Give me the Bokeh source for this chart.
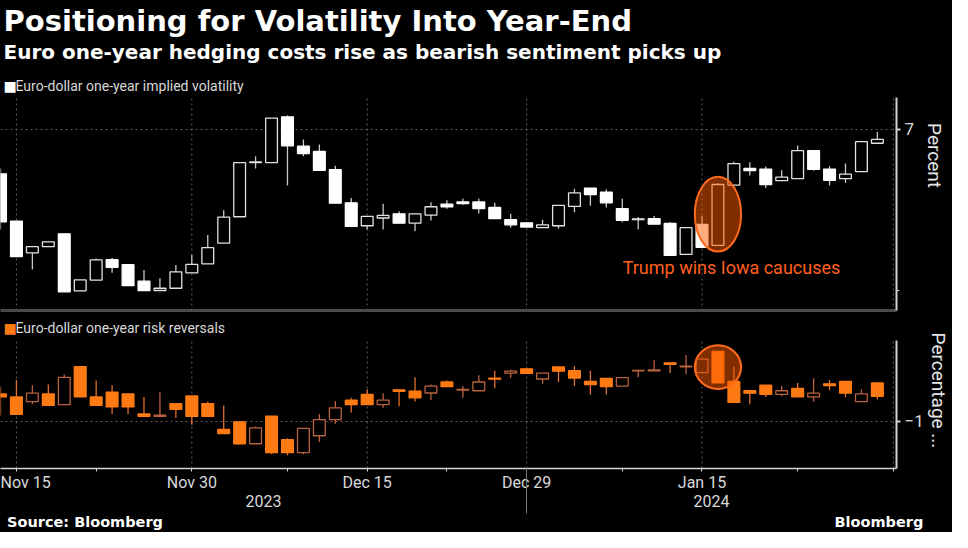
import numpy as np
import pandas as pd
from bokeh.plotting import figure
from bokeh.models import ColumnDataSource, Range1d, FixedTicker, LinearAxis, Label
from bokeh.layouts import column
from bokeh.embed import file_html
from bokeh.resources import INLINE

# ---------------- data ----------------
axis_days = pd.bdate_range("2023-11-14", "2024-01-31")   # weekday axis
n_candles = 56                                             # Nov 14 .. Jan 30

vol_open = [6.862, 6.715, 6.617, 6.636, 6.676, 6.499, 6.532, 6.596, 6.580, 6.529,
            6.500, 6.507, 6.555, 6.583, 6.647, 6.729, 6.897, 6.897, 7.039, 6.948,
            6.932, 6.875, 6.772, 6.701, 6.725, 6.738, 6.709, 6.734, 6.768, 6.775,
            6.775, 6.758, 6.720, 6.710, 6.695, 6.701, 6.761, 6.818, 6.805, 6.754,
            6.720, 6.723, 6.708, 6.612, 6.705, 6.640, 6.827, 6.879, 6.877, 6.841,
            6.847, 6.934, 6.877, 6.847, 6.869, 6.957]
vol_high = [6.879, 6.715, 6.636, 6.651, 6.676, 6.533, 6.599, 6.602, 6.580, 6.564,
            6.538, 6.579, 6.610, 6.672, 6.749, 6.897, 6.917, 7.035, 7.043, 6.969,
            6.953, 6.887, 6.787, 6.730, 6.769, 6.746, 6.738, 6.774, 6.780, 6.785,
            6.785, 6.772, 6.738, 6.710, 6.720, 6.764, 6.816, 6.818, 6.814, 6.785,
            6.728, 6.731, 6.713, 6.695, 6.731, 6.834, 6.900, 6.898, 6.885, 6.873,
            6.950, 6.934, 6.886, 6.894, 6.962, 6.992]
vol_low = [6.689, 6.605, 6.565, 6.636, 6.496, 6.499, 6.532, 6.555, 6.515, 6.500,
           6.500, 6.507, 6.555, 6.583, 6.647, 6.729, 6.879, 6.897, 6.826, 6.917,
           6.873, 6.771, 6.699, 6.689, 6.689, 6.709, 6.684, 6.717, 6.754, 6.766,
           6.739, 6.723, 6.695, 6.697, 6.695, 6.692, 6.743, 6.763, 6.758, 6.712,
           6.689, 6.706, 6.609, 6.612, 6.634, 6.640, 6.827, 6.857, 6.818, 6.841,
           6.847, 6.872, 6.826, 6.834, 6.869, 6.957]
vol_close = [6.713, 6.605, 6.636, 6.651, 6.496, 6.533, 6.595, 6.572, 6.515, 6.500,
             6.507, 6.558, 6.581, 6.633, 6.728, 6.897, 6.899, 7.035, 6.949, 6.925,
             6.873, 6.771, 6.699, 6.730, 6.733, 6.709, 6.738, 6.760, 6.760, 6.770,
             6.754, 6.723, 6.704, 6.697, 6.704, 6.764, 6.803, 6.798, 6.772, 6.718,
             6.722, 6.706, 6.609, 6.695, 6.634, 6.829, 6.894, 6.872, 6.829, 6.852,
             6.934, 6.876, 6.842, 6.861, 6.962, 6.969]

rr_open = [-0.854, -0.870, -0.895, -0.854, -0.912, -0.707, -0.870, -0.845, -0.854, -0.962,
           -0.975, -0.907, -0.865, -0.907, -1.045, -1.004, -1.122, -0.974, -1.100, -1.170,
           -1.079, -0.992, -0.887, -0.857, -0.912, -0.832, -0.839, -0.849, -0.790, -0.833,
           -0.837, -0.769, -0.742, -0.719, -0.774, -0.709, -0.729, -0.787, -0.770, -0.812,
           -0.730, -0.730, -0.687, -0.708, -0.740, -0.625, -0.787, -0.837, -0.807, -0.857,
           -0.825, -0.870, -0.800, -0.787, -0.895, -0.795]
rr_high = [-0.815, -0.779, -0.807, -0.804, -0.750, -0.707, -0.782, -0.807, -0.854, -0.870,
           -0.845, -0.907, -0.865, -0.895, -0.917, -1.004, -1.029, -0.974, -1.092, -1.039,
           -0.962, -0.892, -0.874, -0.829, -0.850, -0.832, -0.764, -0.804, -0.782, -0.812,
           -0.754, -0.729, -0.724, -0.719, -0.742, -0.709, -0.704, -0.729, -0.770, -0.767,
           -0.724, -0.670, -0.687, -0.645, -0.667, -0.625, -0.707, -0.837, -0.807, -0.812,
           -0.795, -0.770, -0.779, -0.787, -0.829, -0.795]
rr_low = [-0.970, -0.964, -0.909, -0.915, -0.912, -0.870, -0.915, -0.962, -0.962, -0.975,
          -0.975, -0.984, -1.020, -0.975, -1.067, -1.122, -1.122, -1.179, -1.184, -1.179,
          -1.112, -1.015, -0.954, -0.912, -0.929, -0.920, -0.895, -0.887, -0.815, -0.874,
          -0.837, -0.824, -0.767, -0.744, -0.800, -0.790, -0.812, -0.859, -0.857, -0.812,
          -0.765, -0.730, -0.742, -0.749, -0.740, -0.795, -0.900, -0.909, -0.870, -0.867,
          -0.870, -0.895, -0.834, -0.870, -0.895, -0.884]
rr_close = [-0.870, -0.964, -0.850, -0.915, -0.765, -0.870, -0.915, -0.924, -0.924, -0.975,
            -0.968, -0.937, -0.975, -0.975, -1.067, -1.122, -1.037, -1.170, -1.170, -1.039,
            -0.992, -0.929, -0.912, -0.912, -0.887, -0.840, -0.875, -0.812, -0.815, -0.830,
            -0.790, -0.775, -0.732, -0.744, -0.742, -0.732, -0.769, -0.804, -0.815, -0.767,
            -0.727, -0.725, -0.695, -0.705, -0.667, -0.795, -0.900, -0.850, -0.857, -0.837,
            -0.870, -0.850, -0.809, -0.850, -0.854, -0.867]

major_tick_dates = ["2023-11-15", "2023-11-30", "2023-12-15", "2023-12-29", "2024-01-15"]
minor_tick_dates = ["2023-11-22", "2023-12-08", "2023-12-22", "2024-01-08", "2024-01-23", "2024-01-31"]
year_labels = ["2023", "2024"]
year_break_date = "2023-12-29"
event_date = "2024-01-16"
event_text = "Trump wins Iowa caucuses"

title_text = "Positioning for Volatility Into Year-End"
subtitle_text = "Euro one-year hedging costs rise as bearish sentiment picks up"
vol_name = "Euro-dollar one-year implied volatility"
rr_name = "Euro-dollar one-year risk reversals"
source_text = "Source: Bloomberg"
brand_text = "Bloomberg"
vol_axis_name = "Percent"
rr_axis_name = "Percentage ..."
vol_lo, vol_hi = 6.438, 7.099          # visible value window, top panel
rr_lo, rr_hi = -1.255, -0.565          # visible value window, bottom panel
vol_ticks, vol_minor_ticks = [7], [6.5]
rr_ticks = [-1]

# ---------------- layout / style ----------------
BG = "#000000"
GRID = "#5e5e5e"
AXC = "#d2d2d2"
TXT = "#d9d9d9"
ORANGE = "#ff7a12"
ORANGE_HOLLOW = "#b9623f"
ANNOT = "#ff5f1f"

W = 952
P1_H, P1_DATA_TOP, P1_BORDER_BOTTOM = 312, 97, 2
P2_H, P2_DATA_TOP, P2_BORDER_BOTTOM = 220, 28, 62

idx = {d.strftime("%Y-%m-%d"): i for i, d in enumerate(axis_days)}
x = np.arange(n_candles)
major_idx = [idx[d] for d in major_tick_dates]
minor_idx = [idx[d] for d in minor_tick_dates]
grid_idx = major_idx + [idx["2024-01-31"]]
ev = idx[event_date]
brk = idx[year_break_date]

xr = Range1d(0, 56.2)


def extended_range(lo, hi, frame_h, data_top):
    # the frame also holds the header area above the data window
    scale = (frame_h - data_top) / (hi - lo)
    return Range1d(lo, hi + data_top / scale)


def base_fig(h, border_bottom, data_top, lo, hi):
    frame_h = h - border_bottom
    p = figure(width=W, height=h, x_range=xr,
               y_range=extended_range(lo, hi, frame_h, data_top),
               y_axis_location="right", output_backend="svg", toolbar_location=None,
               min_border_left=0, min_border_right=50, min_border_top=0,
               min_border_bottom=border_bottom, background_fill_color=BG,
               border_fill_color=BG, outline_line_color=None)
    p.title.visible = False
    p.xgrid.visible = False
    p.ygrid.grid_line_color = GRID
    p.ygrid.grid_line_dash = "2 3"
    # vertical grid lines limited to the data window
    p.segment(x0=grid_idx, y0=lo, x1=grid_idx, y1=hi, line_color=GRID,
              line_dash="2 3", line_width=1)
    ya = p.yaxis[0]
    ya.bounds = (lo, hi)
    ya.axis_line_color = AXC
    ya.axis_line_width = 2
    ya.major_tick_line_color = AXC
    ya.major_tick_line_width = 2
    ya.minor_tick_line_color = AXC
    ya.major_tick_out = 4
    ya.major_tick_in = 0
    ya.minor_tick_out = 3
    ya.minor_tick_in = 0
    ya.major_label_standoff = 4
    ya.major_label_text_font = "Roboto"
    ya.major_label_text_font_size = "17px"
    ya.major_label_text_color = TXT
    ya.axis_label_text_font = "Roboto"
    ya.axis_label_text_font_size = "19px"
    ya.axis_label_text_font_style = "normal"
    ya.axis_label_text_color = "#e6e6e6"
    return p, frame_h


def draw_candles(p, o, h, l, c, dn_color, up_line, dn_wick, up_wick):
    o = np.asarray(o, float)
    c = np.asarray(c, float)
    up = c >= o
    src = ColumnDataSource(dict(
        x=x, top=np.maximum(o, c), bottom=np.minimum(o, c), high=h, low=l,
        fill=np.where(up, BG, dn_color).tolist(),
        line=np.where(up, up_line, dn_color).tolist(),
        wick=np.where(up, up_wick, dn_wick).tolist()))
    p.segment(x0="x", y0="high", x1="x", y1="low", source=src,
              line_color="wick", line_width=1.3)
    p.vbar(x="x", width=0.74, top="top", bottom="bottom", source=src,
           fill_color="fill", line_color="line", line_width=1.3)


def label(p, xx, yy, text, size, color, font="Roboto", style="normal",
          align="left", xu="screen", yu="screen"):
    p.add_layout(Label(x=xx, y=yy, x_units=xu, y_units=yu, text=text,
                       text_font=font, text_font_size=size, text_font_style=style,
                       text_color=color, text_align=align, text_baseline="middle"))


# ---------------- top panel: implied volatility ----------------
p1, f1 = base_fig(P1_H, P1_BORDER_BOTTOM, P1_DATA_TOP, vol_lo, vol_hi)
p1.yaxis.ticker = FixedTicker(ticks=vol_ticks, minor_ticks=vol_minor_ticks)
p1.yaxis.axis_label = vol_axis_name
p1.yaxis.axis_label_standoff = 6
xa1 = p1.xaxis[0]
xa1.ticker = FixedTicker(ticks=[])
xa1.axis_line_color = "#4a4a4a"
xa1.axis_line_width = 3
xa1.major_tick_out = 0
xa1.minor_tick_out = 0
xa1.major_tick_line_color = None
xa1.minor_tick_line_color = None
xa1.major_label_text_font_size = "0px"
xa1.major_label_standoff = 0

draw_candles(p1, vol_open, vol_high, vol_low, vol_close,
             "#ffffff", "#e2e2e2", "#c8c8c8", "#c8c8c8")

p1.ellipse(x=ev, y=(vol_high[ev] + vol_low[ev]) / 2, width=2.9,
           height=(vol_high[ev] - vol_low[ev]) * 1.2,
           fill_color="#ff5a00", fill_alpha=0.5, line_color="#ff6a1a", line_width=2)
label(p1, ev + 0.85, vol_low[ev] - 0.07, event_text, "18px", ANNOT,
      align="center", xu="data", yu="data")

# header (screen y measured up from the frame bottom)
label(p1, 3, f1 - 20, title_text, "29px", "#ffffff", font="DejaVu Sans", style="bold")
label(p1, 3, f1 - 51, subtitle_text, "20px", "#ffffff", font="DejaVu Sans", style="bold")
label(p1, 3, f1 - 85, "\u25A0", "14px", "#ffffff", font="DejaVu Sans")
label(p1, 15, f1 - 85, vol_name, "14px", TXT)

# ---------------- bottom panel: risk reversals ----------------
p2, f2 = base_fig(P2_H, P2_BORDER_BOTTOM, P2_DATA_TOP, rr_lo, rr_hi)
p2.yaxis.ticker = FixedTicker(ticks=rr_ticks)
p2.yaxis.axis_label = rr_axis_name
p2.yaxis.axis_label_standoff = 0

xa2 = p2.xaxis[0]
xa2.ticker = FixedTicker(ticks=major_idx, minor_ticks=minor_idx)
xa2.major_label_overrides = {i: axis_days[i].strftime("%b %d") for i in major_idx}
xa2.axis_line_color = AXC
xa2.axis_line_width = 1.5
xa2.major_tick_line_color = AXC
xa2.minor_tick_line_color = AXC
xa2.major_tick_out = 3
xa2.major_tick_in = 0
xa2.minor_tick_out = 3
xa2.minor_tick_in = 0
xa2.major_label_standoff = 1
xa2.major_label_text_font = "Roboto"
xa2.major_label_text_font_size = "16px"
xa2.major_label_text_color = TXT

# year row
year_x = [(xr.start + brk) / 2, (brk + xr.end) / 2]
year_axis = LinearAxis(ticker=FixedTicker(ticks=year_x),
                       major_label_overrides=dict(zip(year_x, year_labels)),
                       axis_line_color=None, major_tick_line_color=None,
                       minor_tick_line_color=None, major_tick_out=0, major_tick_in=0,
                       minor_tick_out=0, minor_tick_in=0, major_label_standoff=0,
                       major_label_text_font="Roboto", major_label_text_font_size="16px",
                       major_label_text_color=TXT)
p2.add_layout(year_axis, "below")

# year separator + footer row (source / brand)
source_x, brand_x = 5.3, 55.1
foot_axis = LinearAxis(ticker=FixedTicker(ticks=[source_x, brand_x], minor_ticks=[brk]),
                       major_label_overrides={source_x: source_text, brand_x: brand_text},
                       axis_line_color=None, major_tick_line_color=None,
                       minor_tick_line_color="#7a7a7a", minor_tick_line_width=1,
                       minor_tick_in=42, minor_tick_out=4, major_tick_out=0,
                       major_tick_in=0, major_label_standoff=0,
                       major_label_text_font="DejaVu Sans",
                       major_label_text_font_style="bold",
                       major_label_text_font_size="14.5px",
                       major_label_text_color="#ffffff")
p2.add_layout(foot_axis, "below")

draw_candles(p2, rr_open, rr_high, rr_low, rr_close,
             ORANGE, ORANGE_HOLLOW, "#e0702c", ORANGE_HOLLOW)

p2.ellipse(x=ev, y=(rr_high[ev] + rr_low[ev]) / 2, width=2.9,
           height=(rr_high[ev] - rr_low[ev]) * 1.38,
           fill_color="#ff5a00", fill_alpha=0.5, line_color="#ff6a1a", line_width=2)

label(p2, 3, f2 - 17, "\u25A0", "14px", ORANGE, font="DejaVu Sans")
label(p2, 15, f2 - 17, rr_name, "14px", TXT)

layout = column(p1, p2, styles={"background-color": BG})
open("out.html", "w").write(file_html(layout, INLINE))
